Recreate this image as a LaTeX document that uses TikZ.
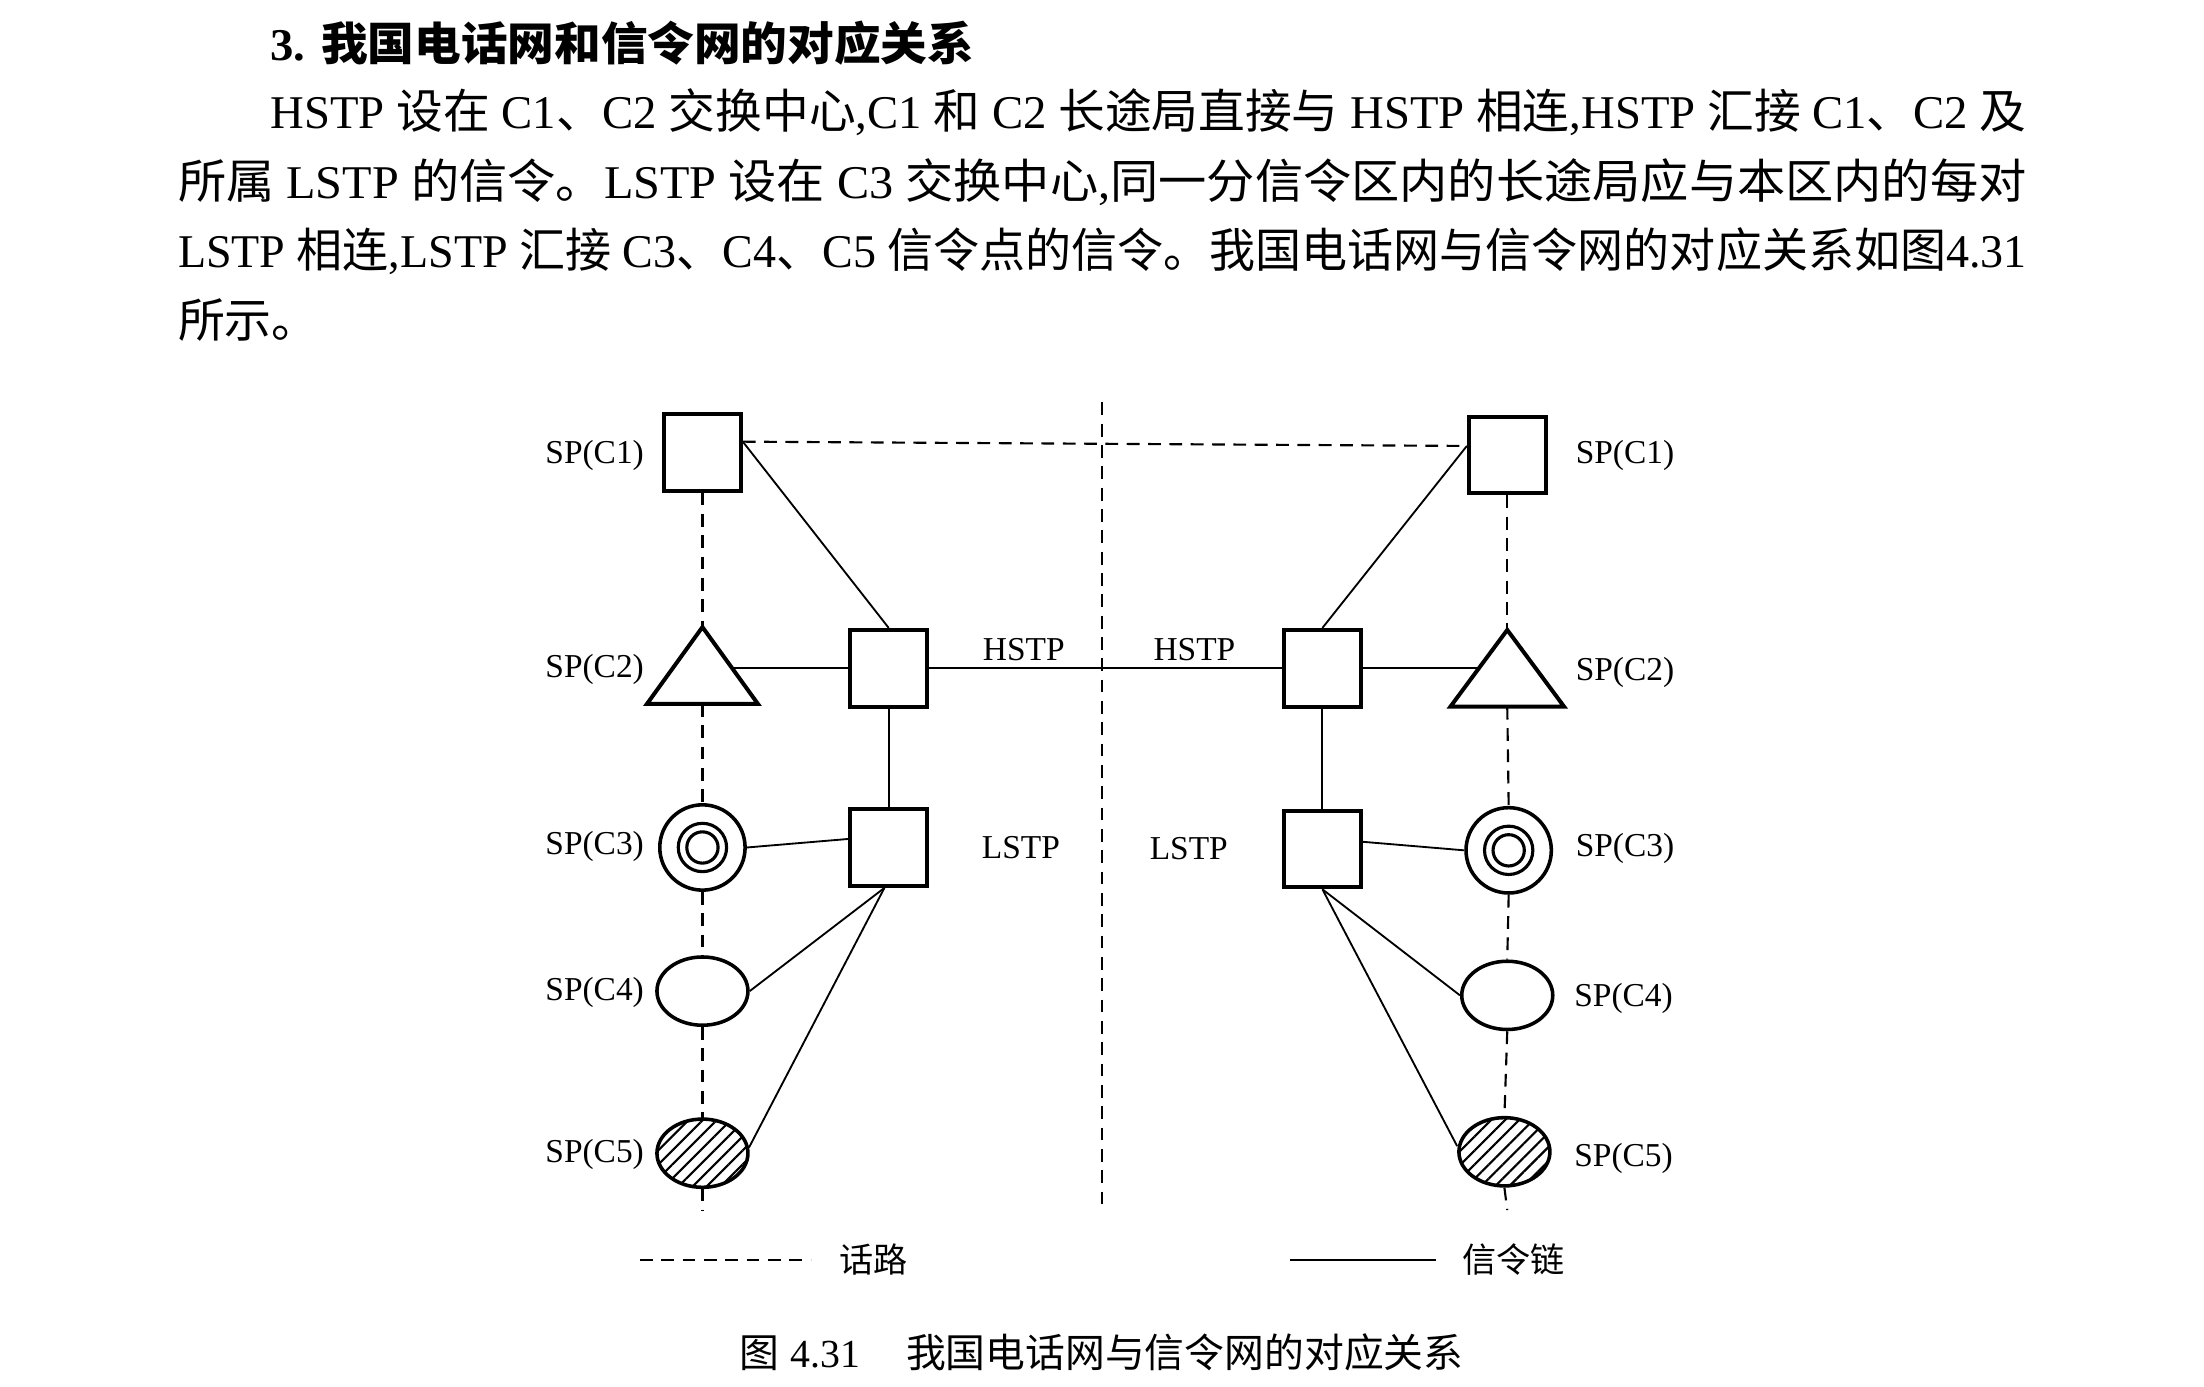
\documentclass[tikz,border=0pt]{standalone}
\usepackage{fontspec}
\usepackage{graphicx}
\setmainfont{Liberation Serif}
\newfontfamily\cjk{Noto Sans CJK SC}
\usetikzlibrary{shapes.geometric,patterns.meta,calc}
\newcommand\fitw[2]{\resizebox{#1}{\height}{#2}}
\begin{document}
\begin{tikzpicture}[x=1pt,y=-1pt,
  sq/.style={draw,line width=2.8pt,minimum size=54pt,inner sep=0pt},
  cthree/.style={draw,circle,line width=2.5pt,minimum size=60pt,inner sep=0pt},
  cfour/.style={draw,ellipse,line width=2.5pt,minimum width=64pt,minimum height=48pt,inner sep=0pt},
  cfive/.style={cfour,pattern={Lines[angle=45,distance=7pt,line width=1.5pt]}},
  tri/.style={draw,line width=2.8pt},
  link/.style={line width=1.3pt},
  road/.style={line width=1.5pt,dash pattern=on 9pt off 6pt},
  lab/.style={font=\fontsize{23.5}{28}\selectfont,inner sep=0pt},
  body/.style={font=\fontsize{33}{40}\selectfont,inner sep=0pt,anchor=west},
  leg/.style={font=\fontsize{24}{28}\selectfont\cjk,inner sep=0pt,anchor=west}]
\useasboundingbox (0,0) rectangle (1550,975);

% ---- text above ----
\node[body,font=\fontsize{32}{40}\selectfont\bfseries] (title) at (190,30)
  {\fitw{495pt}{3. {\cjk\bfseries 我国电话网和信令网的对应关系}}};
\node[body] (t1) at (190,79)
  {\fitw{1235pt}{HSTP {\cjk 设在} C1{\cjk 、}C2 {\cjk 交换中心},C1 {\cjk 和} C2 {\cjk 长途局直接与} HSTP {\cjk 相连},HSTP {\cjk 汇接} C1{\cjk 、}C2 {\cjk 及}}};
\node[body] (t2) at (125,128)
  {\fitw{1300pt}{{\cjk 所属} LSTP {\cjk 的信令。}LSTP {\cjk 设在} C3 {\cjk 交换中心},{\cjk 同一分信令区内的长途局应与本区内的每对}}};
\node[body] (t3) at (125,177)
  {\fitw{1300pt}{LSTP {\cjk 相连},LSTP {\cjk 汇接} C3{\cjk 、}C4{\cjk 、}C5 {\cjk 信令点的信令。我国电话网与信令网的对应关系如图}4.31}};
\node[body] (t4) at (125,225) {\cjk 所示。};

% ---- nodes ----
\node[sq] (L1) at (494,318) {};
\node[sq] (R1) at (1060,320) {};
\node[sq] (LH) at (625,470) {};
\node[sq] (RH) at (930,470) {};
\node[sq] (LL) at (625,596) {};
\node[sq] (RL) at (930,597) {};
\coordinate (L2) at (494,441); \coordinate (L2b) at (494,495); \coordinate (L2r) at (515,470);
\coordinate (R2) at (1060,443); \coordinate (R2b) at (1060,497); \coordinate (R2l) at (1040,470);
\draw[tri] (L2) -- ++(-39,54) -- ++(78,0) -- cycle;
\draw[tri] (R2) -- ++(-40,54) -- ++(80,0) -- cycle;
\node[cthree] (L3) at (494,596) {};
\node[cthree] (R3) at (1061,598) {};
\draw[line width=2.2pt] (L3) circle[radius=17] (L3) circle[radius=11];
\draw[line width=2.2pt] (R3) circle[radius=17] (R3) circle[radius=11];
\node[cfour] (L4) at (494,697) {};
\node[cfour] (R4) at (1060,700) {};
\node[cfive] (L5) at (494,811) {};
\node[cfive] (R5) at (1058,810) {};

% ---- speech paths (dashed) ----
\coordinate (ctop) at (775,283); \coordinate (cbot) at (775,851);
\coordinate (Lbot) at (494,851); \coordinate (Rbot) at (1060,851);
\coordinate (L1d) at ($(L1.north east)+(0,21)$);
\coordinate (R1d) at ($(R1.north west)+(0,22)$);
\draw[road] (ctop) -- (cbot);
\draw[road] (L1d) -- (R1d);
\draw[road] (L1.south) -- (L2);
\draw[road] (L2b) -- (L3.north);
\draw[road] (L3.south) -- (L4.north);
\draw[road] (L4.south) -- (L5.north);
\draw[road] (L5.south) -- (Lbot);
\draw[road] (R1.south) -- (R2);
\draw[road] (R2b) -- (R3.north);
\draw[road] (R3.south) -- (R4.north);
\draw[road] (R4.south) -- (R5.north);
\draw[road] (R5.south) -- (Rbot);

% ---- signalling links (solid) ----
\draw[link] (L1d) -- (LH.north);
\draw[link] (R1d) -- (RH.north);
\draw[link] (L2r) -- (LH.west);
\draw[link] (LH.east) -- (RH.west);
\draw[link] (RH.east) -- (R2l);
\draw[link] (LH.south) -- (LL.north);
\draw[link] (RH.south) -- (RL.north);
\draw[link] ($(LL.west)+(0,-6)$) -- (L3.east);
\draw[link] ($(LL.south)+(-3,0)$) -- (L4.east);
\draw[link] ($(LL.south)+(-3,0)$) -- ($(L5.east)+(0,-4)$);
\draw[link] ($(RL.east)+(0,-5)$) -- (R3.west);
\draw[link] (RL.south) -- (R4.west);
\draw[link] (RL.south) -- ($(R5.west)+(0,-4)$);

% ---- labels ----
\node[lab,anchor=east] (lc1) at (453,320) {SP(C1)};
\node[lab,anchor=east] (lc2) at (453,471) {SP(C2)};
\node[lab,anchor=east] (lc3) at (453,595) {SP(C3)};
\node[lab,anchor=east] (lc4) at (453,698) {SP(C4)};
\node[lab,anchor=east] (lc5) at (453,812) {SP(C5)};
\node[lab,anchor=west] (rc1) at (1108,320) {SP(C1)};
\node[lab,anchor=west] (rc2) at (1108,473) {SP(C2)};
\node[lab,anchor=west] (rc3) at (1108,597) {SP(C3)};
\node[lab,anchor=west] (rc4) at (1107,702) {SP(C4)};
\node[lab,anchor=west] (rc5) at (1107,815) {SP(C5)};
\node[lab] (lhs) at (720,457) {HSTP};
\node[lab] (rhs) at (840,457) {HSTP};
\node[lab] (lls) at (718,596) {LSTP};
\node[lab] (rls) at (836,597) {LSTP};

% ---- legend ----
\coordinate (lga) at (450,886); \coordinate (lgb) at (570,886);
\coordinate (lgc) at (907,886); \coordinate (lgd) at (1010,886);
\draw[road] (lga) -- (lgb);
\node[leg] (lg1) at (590,886) {话路};
\draw[link] (lgc) -- (lgd);
\node[leg] (lg2) at (1028,886) {信令链};

% ---- caption ----
\node[body,font=\fontsize{28}{34}\selectfont] (cap) at (520,951)
  {{\cjk 图}\hspace{8pt}4.31\hspace{32pt}{\cjk 我国电话网与信令网的对应关系}};
\end{tikzpicture}
\end{document}
